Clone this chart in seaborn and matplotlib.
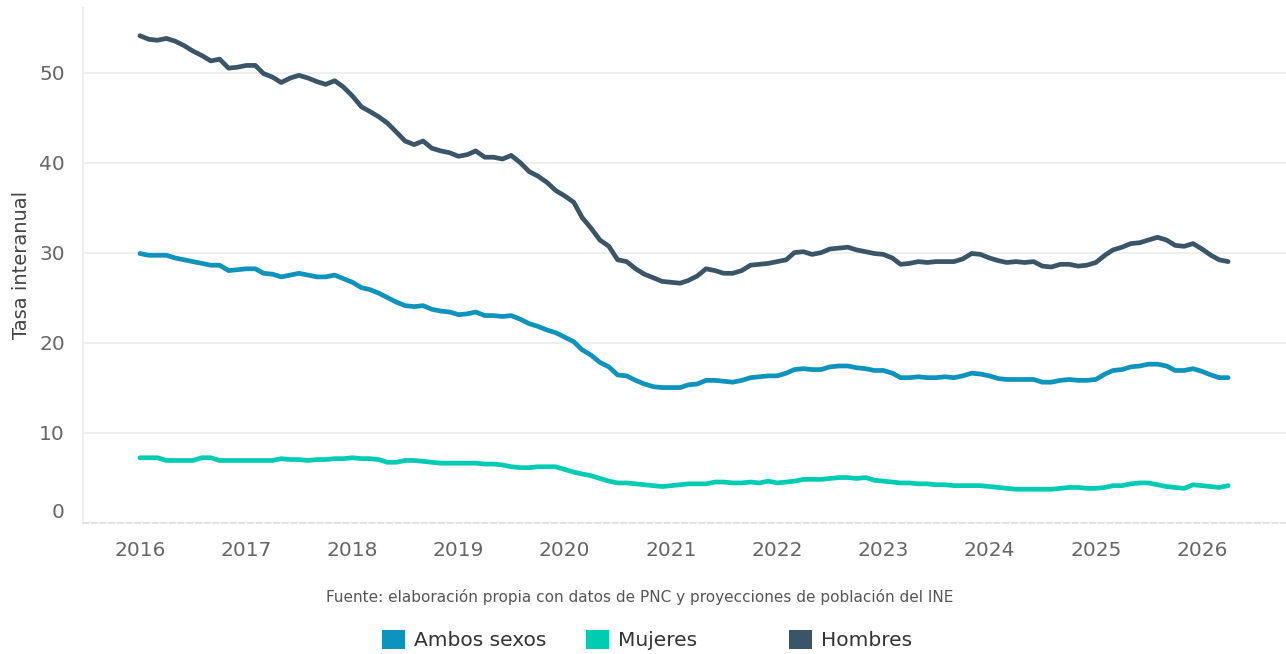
import pandas as pd
import seaborn as sns
import matplotlib.pyplot as plt
import matplotlib.dates as mdates
from matplotlib.patches import Patch
from matplotlib.transforms import ScaledTranslation

# tasa interanual mensual, ene-2016 .. abr-2026
fechas = pd.date_range('2016-01-01', periods=124, freq='MS')

hombres = [
    54.1, 53.7, 53.6, 53.8, 53.5, 53.0, 52.4, 51.9, 51.3, 51.5, 50.5, 50.6,
    50.8, 50.8, 49.9, 49.5, 48.9, 49.4, 49.7, 49.4, 49.0, 48.7, 49.1, 48.4,
    47.4, 46.2, 45.7, 45.1, 44.4, 43.4, 42.4, 42.0, 42.4, 41.6, 41.3, 41.1,
    40.7, 40.9, 41.3, 40.6, 40.6, 40.4, 40.8, 40.0, 39.0, 38.5, 37.8, 36.9,
    36.3, 35.6, 33.9, 32.7, 31.4, 30.7, 29.2, 29.0, 28.2, 27.6, 27.2, 26.8,
    26.7, 26.6, 26.9, 27.4, 28.2, 28.0, 27.7, 27.7, 28.0, 28.6, 28.7, 28.8,
    29.0, 29.2, 30.0, 30.1, 29.8, 30.0, 30.4, 30.5, 30.6, 30.3, 30.1, 29.9,
    29.8, 29.4, 28.7, 28.8, 29.0, 28.9, 29.0, 29.0, 29.0, 29.3, 29.9, 29.8,
    29.4, 29.1, 28.9, 29.0, 28.9, 29.0, 28.5, 28.4, 28.7, 28.7, 28.5, 28.6,
    28.9, 29.7, 30.3, 30.6, 31.0, 31.1, 31.4, 31.7, 31.4, 30.8, 30.7, 31.0,
    30.4, 29.7, 29.2, 29.0,
]
ambos = [
    29.9, 29.7, 29.7, 29.7, 29.4, 29.2, 29.0, 28.8, 28.6, 28.6, 28.0, 28.1,
    28.2, 28.2, 27.7, 27.6, 27.3, 27.5, 27.7, 27.5, 27.3, 27.3, 27.5, 27.1,
    26.7, 26.1, 25.9, 25.5, 25.0, 24.5, 24.1, 24.0, 24.1, 23.7, 23.5, 23.4,
    23.1, 23.2, 23.4, 23.0, 23.0, 22.9, 23.0, 22.6, 22.1, 21.8, 21.4, 21.1,
    20.6, 20.1, 19.2, 18.6, 17.8, 17.3, 16.4, 16.3, 15.8, 15.4, 15.1, 15.0,
    15.0, 15.0, 15.3, 15.4, 15.8, 15.8, 15.7, 15.6, 15.8, 16.1, 16.2, 16.3,
    16.3, 16.6, 17.0, 17.1, 17.0, 17.0, 17.3, 17.4, 17.4, 17.2, 17.1, 16.9,
    16.9, 16.6, 16.1, 16.1, 16.2, 16.1, 16.1, 16.2, 16.1, 16.3, 16.6, 16.5,
    16.3, 16.0, 15.9, 15.9, 15.9, 15.9, 15.6, 15.6, 15.8, 15.9, 15.8, 15.8,
    15.9, 16.5, 16.9, 17.0, 17.3, 17.4, 17.6, 17.6, 17.4, 16.9, 16.9, 17.1,
    16.8, 16.4, 16.1, 16.1,
]
mujeres = [
    7.2, 7.2, 7.2, 6.9, 6.9, 6.9, 6.9, 7.2, 7.2, 6.9, 6.9, 6.9,
    6.9, 6.9, 6.9, 6.9, 7.1, 7.0, 7.0, 6.9, 7.0, 7.0, 7.1, 7.1,
    7.2, 7.1, 7.1, 7.0, 6.7, 6.7, 6.9, 6.9, 6.8, 6.7, 6.6, 6.6,
    6.6, 6.6, 6.6, 6.5, 6.5, 6.4, 6.2, 6.1, 6.1, 6.2, 6.2, 6.2,
    5.9, 5.6, 5.4, 5.2, 4.9, 4.6, 4.4, 4.4, 4.3, 4.2, 4.1, 4.0,
    4.1, 4.2, 4.3, 4.3, 4.3, 4.5, 4.5, 4.4, 4.4, 4.5, 4.4, 4.6,
    4.4, 4.5, 4.6, 4.8, 4.8, 4.8, 4.9, 5.0, 5.0, 4.9, 5.0, 4.7,
    4.6, 4.5, 4.4, 4.4, 4.3, 4.3, 4.2, 4.2, 4.1, 4.1, 4.1, 4.1,
    4.0, 3.9, 3.8, 3.7, 3.7, 3.7, 3.7, 3.7, 3.8, 3.9, 3.9, 3.8,
    3.8, 3.9, 4.1, 4.1, 4.3, 4.4, 4.4, 4.2, 4.0, 3.9, 3.8, 4.2,
    4.1, 4.0, 3.9, 4.1,
]

series = ['Ambos sexos', 'Mujeres', 'Hombres']
colores = ['#0E93BC', '#00CCB4', '#3B5568']

df = pd.DataFrame({'fecha': fechas, 'Ambos sexos': ambos,
                   'Mujeres': mujeres, 'Hombres': hombres})
df = df.melt(id_vars='fecha', var_name='serie', value_name='tasa')

sns.set_theme(style='white')
plt.rcParams['font.family'] = ['DejaVu Sans']

fig = plt.figure(figsize=(12.86, 6.54), dpi=100)
ax = fig.add_axes([0.0645, 0.201, 0.9355, 0.787])

sns.lineplot(data=df, x='fecha', y='tasa', hue='serie', hue_order=series,
             palette=colores, linewidth=3.4, legend=False, ax=ax,
             solid_capstyle='round')

ax.set_xlim(pd.Timestamp('2015-06-19'), pd.Timestamp('2026-10-17'))
ax.set_ylim(0, 57.2)
ax.set_yticks([0, 10, 20, 30, 40, 50])
ax.xaxis.set_major_locator(mdates.YearLocator())
ax.xaxis.set_major_formatter(mdates.DateFormatter('%Y'))
ax.xaxis.set_minor_locator(mdates.MonthLocator(bymonth=[1, 4, 7, 10]))

ax.grid(axis='y', color='#EFEFEF', linewidth=1.5)
ax.tick_params(axis='y', length=10, width=1.5, color='#EFEFEF',
               labelsize=14.5, labelcolor='#666666', pad=3)
ax.tick_params(axis='x', which='both', length=8, width=1, color='#E6E6E6',
               labelsize=14.5, labelcolor='#666666', pad=5)
for s in ['top', 'right']:
    ax.spines[s].set_visible(False)
ax.spines['left'].set_color('#EFEFEF')
ax.spines['left'].set_linewidth(1.5)
ax.spines['bottom'].set_color('#E0E0E0')
ax.spines['bottom'].set_linestyle((0, (3, 2)))

ax.set_xlabel('')
ax.set_ylabel('Tasa interanual', fontsize=14, color='#444444')
ax.yaxis.set_label_coords(-0.0435, 0.5)

# el 0 va un poco por encima del eje
cero = ax.get_yticklabels()[0]
cero.set_transform(cero.get_transform() + ScaledTranslation(0, 0.12, fig.dpi_scale_trans))

fig.text(0.4977, 0.087,
         'Fuente: elaboración propia con datos de PNC y proyecciones de población del INE',
         ha='center', va='center', fontsize=11, color='#555555')

for nombre, color, x in zip(series, colores, [382, 586, 789]):
    fig.legend(handles=[Patch(facecolor=color, edgecolor='none')], labels=[nombre],
               loc='center left', bbox_to_anchor=(x / 1286, 0.0214),
               frameon=False, borderpad=0, borderaxespad=0, fontsize=14.5,
               handlelength=1.12, handleheight=1.12, handletextpad=0.45,
               labelcolor='#333333')

fig.savefig('out.png', dpi=100)
